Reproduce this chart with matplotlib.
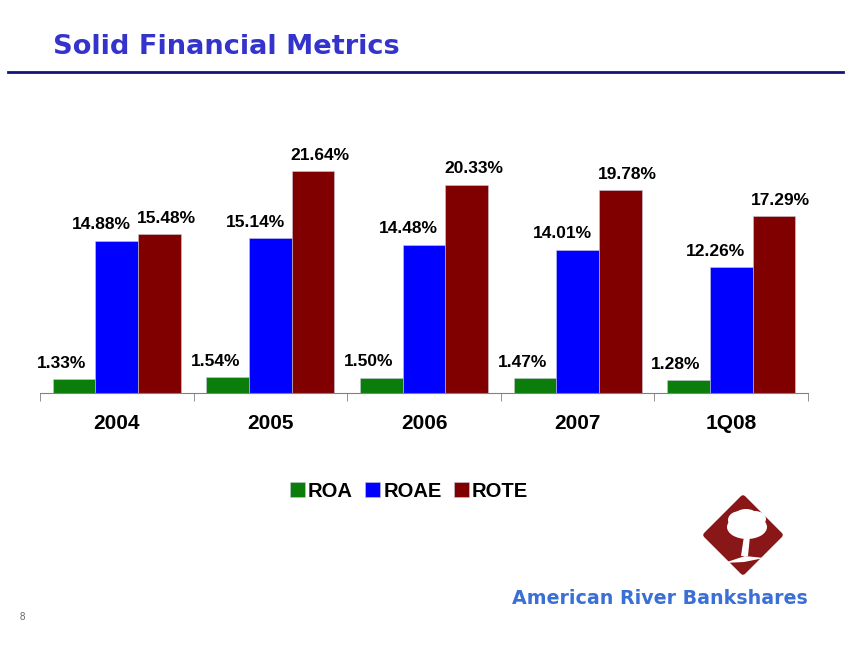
import matplotlib.pyplot as plt
import matplotlib.patches as mpatches
import numpy as np

# Data
periods = ['2004', '2005', '2006', '2007', '1Q08']
roa = [1.33, 1.54, 1.50, 1.47, 1.28]
roae = [14.88, 15.14, 14.48, 14.01, 12.26]
rote = [15.48, 21.64, 20.33, 19.78, 17.29]

series = [('ROA', roa, '#0a7d0a', -9),
          ('ROAE', roae, '#0000ff', -11),
          ('ROTE', rote, '#800000', 5)]

fig = plt.figure(figsize=(8.64, 6.48), dpi=100)
plt.rcParams['font.family'] = ['Liberation Sans', 'DejaVu Sans']

# Header
fig.text(53 / 864, 1 - 47 / 648, 'Solid Financial Metrics', family='DejaVu Sans',
         fontsize=19.6, fontweight='bold', color='#3434cc', va='center', ha='left')
fig.add_artist(plt.Line2D([8 / 864, 843 / 864], [1 - 72 / 648] * 2,
                          color='#14147a', lw=2))

# Bar chart
ax = fig.add_axes([40 / 864, 255 / 648, 768 / 864, 0.3951])
x = np.arange(len(periods))
w = 0.278
for k, (name, vals, col, dx) in enumerate(series):
    bars = ax.bar(x + (k - 1) * w, vals, w, color=col, label=name,
                  edgecolor='#c8c8d8', linewidth=0.4)
    for b, v in zip(bars, vals):
        ax.annotate(f'{v:.2f}%', (b.get_x() + b.get_width() / 2, v),
                    xytext=(dx, 6), textcoords='offset points', ha='center',
                    va='bottom', fontsize=12.5, fontweight='bold')

ax.set_xlim(-0.5, len(periods) - 0.5)
ax.set_ylim(0, 25)
for s in ['top', 'left', 'right']:
    ax.spines[s].set_visible(False)
ax.spines['bottom'].set_color('#808080')
ax.set_yticks([])
ax.set_xticks(x)
ax.set_xticklabels(periods, fontsize=15, fontweight='bold')
ax.tick_params(axis='x', which='major', length=0, pad=15)
ax.set_xticks(np.arange(-0.5, len(periods)), minor=True)
ax.tick_params(axis='x', which='minor', length=6, color='#808080')

fig.legend(*ax.get_legend_handles_labels(), loc='center', ncol=3,
           bbox_to_anchor=(409 / 864, 1 - 491 / 648), frameon=False,
           prop={'size': 14.5, 'weight': 'bold'}, handlelength=0.75,
           handleheight=0.75, handletextpad=0.15, columnspacing=0.6)

# Logo
def fx(px):
    return px / 864


def fy(py):
    return 1 - py / 648


cx, cy, r = 743, 535, 37
diamond = mpatches.Polygon([(fx(cx), fy(cy - r)), (fx(cx + r), fy(cy)),
                            (fx(cx), fy(cy + r)), (fx(cx - r), fy(cy))],
                           closed=True, transform=fig.transFigure,
                           facecolor='#8a1717', edgecolor='#8a1717',
                           joinstyle='round', lw=4)
fig.add_artist(diamond)
for (px, py, rw, rh) in [(747, 527, 40, 24), (740, 520, 24, 18),
                         (755, 519, 22, 16), (746, 514, 20, 10)]:
    fig.add_artist(mpatches.Ellipse((fx(px), fy(py)), rw / 864, rh / 648,
                                    transform=fig.transFigure,
                                    facecolor='white', edgecolor='none'))
fig.add_artist(mpatches.Polygon([(fx(744), fy(536)), (fx(750), fy(536)),
                                 (fx(748), fy(556)), (fx(741), fy(556))],
                                transform=fig.transFigure, facecolor='white',
                                edgecolor='none'))
fig.add_artist(mpatches.Polygon([(fx(724), fy(563)), (fx(745), fy(556)),
                                 (fx(764), fy(558)), (fx(744), fy(562))],
                                transform=fig.transFigure, facecolor='white',
                                edgecolor='none'))

fig.text(fx(512), fy(598), 'American River Bankshares', family='DejaVu Sans',
         fontsize=13.7, fontweight='bold', color='#3a6fd6', va='center',
         ha='left')
fig.text(fx(22), fy(617), '8', fontsize=7, color='#666666', va='center',
         ha='center')

fig.savefig('out.png', dpi=100)
